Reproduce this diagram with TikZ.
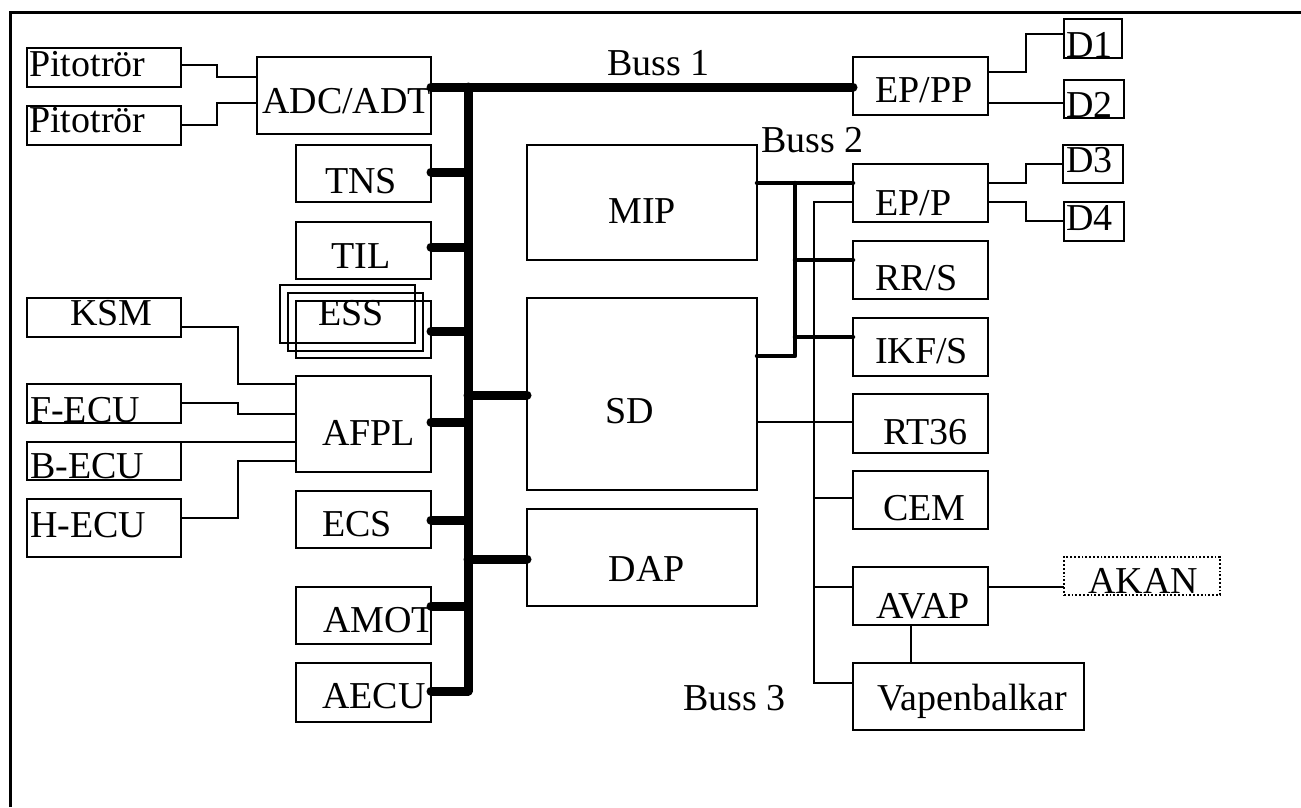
\documentclass[tikz,border=0pt]{standalone}
\usepackage{fontspec}
\setmainfont{Liberation Serif}
\begin{document}
\begin{tikzpicture}[x=1pt,y=-1pt,
  bx/.style={draw,line width=1.8pt,inner sep=0pt,outer sep=0pt,anchor=north west},
  dotbox/.style={bx,dotted},
  txt/.style={anchor=base west,inner sep=0pt,font=\fontsize{38}{42}\selectfont},
  thinline/.style={line width=1.8pt},
  busone/.style={line width=9pt,line cap=round,line join=round},
  bustwo/.style={line width=4.5pt,line cap=round,line join=round}]
\useasboundingbox (0,0) rectangle (1301,807);
\draw[line width=3pt] (10,807) -- (10,12) -- (1301,12);
% boxes: name, x, y, w, h
\newcommand\bxx[6][bx]{\node[#1,minimum width=#5pt,minimum height=#6pt] (#2) at (#3,#4) {};}
\newcommand\cliptxt[4]{\begin{scope}\clip (#1.north west) rectangle (#1.south east);\node[txt] (t#1) at (#2,#3) {#4};\end{scope}}
\bxx{pit1}{27}{48}{154}{39}
\bxx{pit2}{27}{106}{154}{39}
\bxx{adc}{257}{57}{174}{77}
\bxx{tns}{296}{145}{135}{57}
\bxx{til}{296}{222}{135}{57}
\bxx{ksm}{27}{298}{154}{39}
\bxx{fecu}{27}{384}{154}{39}
\bxx{becu}{27}{442}{154}{38}
\bxx{hecu}{27}{499}{154}{58}
\bxx{ess}{296}{301}{135}{57}
\bxx{essb}{280}{285}{135}{58}
\bxx{essc}{288}{293}{135}{58}
\bxx{afpl}{296}{376}{135}{96}
\bxx{ecs}{296}{491}{135}{57}
\bxx{amot}{296}{587}{135}{57}
\bxx{aecu}{296}{663}{135}{59}
\bxx{mip}{527}{145}{230}{115}
\bxx{sd}{527}{298}{230}{192}
\bxx{dap}{527}{509}{230}{97}
\bxx{eppp}{853}{57}{135}{58}
\bxx{da}{1064}{19}{58}{39}
\bxx{db}{1064}{80}{60}{38}
\bxx{dc}{1063}{145}{60}{38}
\bxx{dd}{1064}{202}{60}{39}
\bxx{epp}{853}{164}{135}{58}
\bxx{rrs}{853}{241}{135}{58}
\bxx{ikfs}{853}{318}{135}{58}
\bxx{rt}{853}{394}{135}{59}
\bxx{cem}{853}{471}{135}{58}
\bxx{avap}{853}{567}{135}{58}
\bxx{vap}{853}{663}{231}{67}
\bxx[dotbox]{akan}{1064}{557}{156}{38}
% texts
\node[txt] (tpit1) at (29,76) {Pitotrör};
\node[txt] (tpit2) at (29,132) {Pitotrör};
\node[txt] (tadc) at (262,113) {ADC/ADT};
\node[txt] (ttns) at (325,193) {TNS};
\cliptxt{til}{331}{268}{TIL}
\node[txt] (tksm) at (70,325) {KSM};
\node[txt] (tess) at (318,325) {ESS};
\cliptxt{fecu}{30}{422}{F-ECU}
\cliptxt{becu}{30}{478}{B-ECU}
\node[txt] (thecu) at (30,537) {H-ECU};
\node[txt] (tafpl) at (322,445) {AFPL};
\node[txt] (tecs) at (322,536) {ECS};
\cliptxt{amot}{323}{632}{AMOT}
\cliptxt{aecu}{322}{708}{AECU}
\node[txt,anchor=base] (tmip) at (642,223) {MIP};
\node[txt,anchor=base] (tsd) at (630,423) {SD};
\node[txt,anchor=base] (tdap) at (647,581) {DAP};
\node[txt] (teppp) at (875,102) {EP/PP};
\node[txt] (tda) at (1066,57) {D1};
\cliptxt{db}{1066}{117}{D2}
\node[txt] (tdc) at (1066,172) {D3};
\node[txt] (tdd) at (1066,230) {D4};
\node[txt] (tepp) at (875,215) {EP/P};
\node[txt] (trrs) at (875,290) {RR/S};
\node[txt] (tikfs) at (875,363) {IKF/S};
\node[txt] (trt) at (883,444) {RT36};
\node[txt] (tcem) at (883,520) {CEM};
\node[txt] (tavap) at (876,618) {AVAP};
\node[txt] (tvap) at (877,710) {Vapenbalkar};
\node[txt] (takan) at (1088,593) {AKAN};
\node[txt] (lb1) at (607,75) {Buss 1};
\node[txt] (lb2) at (761,152) {Buss 2};
\node[txt] (lb3) at (683,710) {Buss 3};
% left connectors
\draw[thinline] (pit1.east|-0,65) -- (217,65) -- (217,77) -- (adc.west|-0,77);
\draw[thinline] (pit2.east|-0,125) -- (217,125) -- (217,103) -- (adc.west|-0,103);
\draw[thinline] (ksm.east|-0,327) -- (238,327) -- (238,384) -- (afpl.west|-0,384);
\draw[thinline] (fecu.east|-0,403) -- (238,403) -- (238,414) -- (afpl.west|-0,414);
\draw[thinline] (becu.east|-0,442) -- (afpl.west|-0,442);
\draw[thinline] (hecu.east|-0,518) -- (238,518) -- (238,461) -- (afpl.west|-0,461);
% bus 1
\coordinate (b1top) at (468,87);
\coordinate (b1bot) at (468,691);
\draw[busone] (adc.east|-b1top) -- (eppp.west|-b1top);
\draw[busone] (b1top) -- (b1bot) -- (aecu.east|-b1bot);
\draw[busone] (tns.east|-0,172) -- (b1top|-0,172);
\draw[busone] (til.east|-0,247) -- (b1top|-0,247);
\draw[busone] (ess.east|-0,331) -- (b1top|-0,331);
\draw[busone] (afpl.east|-0,422) -- (b1top|-0,422);
\draw[busone] (ecs.east|-0,520) -- (b1top|-0,520);
\draw[busone] (amot.east|-0,606) -- (b1top|-0,606);
\draw[busone] (b1top|-0,395) -- (sd.west|-0,395);
\draw[busone] (b1top|-0,559) -- (dap.west|-0,559);
% bus 2
\coordinate (b2top) at (795,183);
\coordinate (b2bot) at (795,356);
\draw[bustwo] (mip.east|-b2top) -- (epp.west|-b2top);
\draw[bustwo] (b2top) -- (b2bot) -- (sd.east|-b2bot);
\draw[bustwo] (b2top|-0,260) -- (rrs.west|-0,260);
\draw[bustwo] (b2top|-0,337) -- (ikfs.west|-0,337);
% bus 3
\coordinate (b3top) at (814,202);
\coordinate (b3bot) at (814,683);
\draw[thinline] (epp.west|-b3top) -- (b3top) -- (b3bot) -- (vap.west|-b3bot);
\draw[thinline] (sd.east|-0,422) -- (rt.west|-0,422);
\draw[thinline] (b3top|-0,498) -- (cem.west|-0,498);
\draw[thinline] (b3top|-0,587) -- (avap.west|-0,587);
% right connectors
\draw[thinline] (eppp.east|-0,72) -- (1026,72) -- (1026,34) -- (da.west|-0,34);
\draw[thinline] (eppp.east|-0,103) -- (db.west|-0,103);
\draw[thinline] (epp.east|-0,183) -- (1026,183) -- (1026,164) -- (dc.west|-0,164);
\draw[thinline] (epp.east|-0,202) -- (1026,202) -- (1026,221) -- (dd.west|-0,221);
\draw[thinline] (avap.east|-0,587) -- (akan.west|-0,587);
\draw[thinline] (avap.south-|911,0) -- (vap.north-|911,0);
\end{tikzpicture}
\end{document}
